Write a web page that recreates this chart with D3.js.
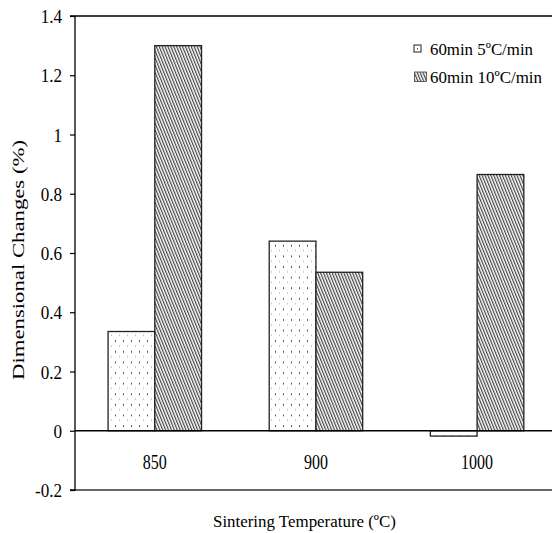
<!DOCTYPE html>
<html><head><meta charset="utf-8">
<script src="https://cdn.jsdelivr.net/npm/d3@7"></script>
<style>body{margin:0;background:#fff}svg{display:block}text{font-family:"Liberation Serif","Times New Roman",serif;fill:#000}</style>
</head><body>
<svg id="c" width="553" height="533"></svg>
<script>
const categories = ["850", "900", "1000"];
const seriesNames = ["60min 5ºC/min", "60min 10ºC/min"];
const series5 = [0.335, 0.64, -0.018];
const series10 = [1.30, 0.535, 0.865];
const yTicks = [-0.2, 0, 0.2, 0.4, 0.6, 0.8, 1, 1.2, 1.4];
const xTitle = "Sintering Temperature (ºC)";
const yTitle = "Dimensional Changes (%)";

const svg = d3.select("#c");
const L = 75, R = 552, T = 16, B = 490;
const y = d3.scaleLinear().domain([-0.2, 1.4]).range([B, T]);
const x = d3.scaleBand().domain(categories).range([L, R]).paddingInner(0.42).paddingOuter(0.19).align(0.54);
const xs = d3.scaleBand().domain([0, 1]).range([0, x.bandwidth()]);

const defs = svg.append("defs");
const dots = defs.append("pattern").attr("id", "dots").attr("patternUnits", "userSpaceOnUse")
  .attr("width", 8).attr("height", 10.6);
dots.append("rect").attr("width", 8).attr("height", 10.6).attr("fill", "#fff");
dots.append("rect").attr("x", 3).attr("y", 1).attr("width", 1).attr("height", 2).attr("fill", "#555");
dots.append("rect").attr("x", 7).attr("y", 6.3).attr("width", 1).attr("height", 1).attr("fill", "#999");
const hatch = defs.append("pattern").attr("id", "hatch").attr("patternUnits", "userSpaceOnUse")
  .attr("width", 2.7).attr("height", 10).attr("patternTransform", "rotate(-22)");
hatch.append("rect").attr("width", 2.7).attr("height", 10).attr("fill", "#fff");
hatch.append("rect").attr("x", 0).attr("y", 0).attr("width", 1.2).attr("height", 10).attr("fill", "#444");

const fills = ["url(#dots)", "url(#hatch)"];
const data = categories.map((c, i) => ({c, v: [series5[i], series10[i]]}));

// bars
const g = svg.append("g");
data.forEach(d => {
  d.v.forEach((v, k) => {
    const y0 = y(Math.max(0, v)), y1 = y(Math.min(0, v));
    g.append("rect").attr("x", x(d.c) + xs(k)).attr("y", y0)
      .attr("width", xs.bandwidth()).attr("height", y1 - y0)
      .attr("fill", fills[k]).attr("stroke", "#222").attr("stroke-width", 1.3);
  });
});

// frame lines
svg.append("line").attr("x1", L).attr("x2", R).attr("y1", T).attr("y2", T).attr("stroke", "#000").attr("stroke-width", 1.3);
svg.append("line").attr("x1", L).attr("x2", R).attr("y1", B).attr("y2", B).attr("stroke", "#333").attr("stroke-width", 1.3);
svg.append("line").attr("x1", L).attr("x2", R).attr("y1", y(0)).attr("y2", y(0)).attr("stroke", "#000").attr("stroke-width", 1.3);

// y axis
const yAxis = d3.axisLeft(y).tickValues(yTicks).tickSize(5).tickPadding(8)
  .tickFormat(d => String(+d.toFixed(1)).replace("\u2212", "-"));
const ya = svg.append("g").attr("transform", `translate(${L},0)`).call(yAxis);
ya.attr("font-family", null);
ya.select(".domain").attr("stroke", "#000").attr("stroke-width", 1.3).attr("d", `M-5,${T}H0V${B}H-5`);
ya.selectAll(".tick line").attr("stroke", "#000").attr("stroke-width", 1.2);
ya.selectAll(".tick text").attr("font-size", 19)
  .attr("transform", "scale(0.9,1)").attr("x", -13/0.9 ).attr("dy", "0.35em");

// x labels
svg.append("g").selectAll("text").data(categories).join("text")
  .attr("x", d => x(d) + x.bandwidth() / 2).attr("y", 469)
  .attr("text-anchor", "middle").attr("font-size", 20)
  .attr("textLength", d => d.length * 8).attr("lengthAdjust", "spacingAndGlyphs")
  .text(d => d);

// titles
svg.append("text").attr("x", 213).attr("y", 527).attr("font-size", 17)
  .attr("textLength", 183).attr("lengthAdjust", "spacingAndGlyphs").text(xTitle);
svg.append("text").attr("transform", "translate(24,380) rotate(-90)").attr("font-size", 17)
  .attr("textLength", 240).attr("lengthAdjust", "spacingAndGlyphs").text(yTitle);

// legend
const lg = svg.append("g");
lg.append("rect").attr("x", 414).attr("y", 45).attr("width", 7).attr("height", 7)
  .attr("fill", "#fff").attr("stroke", "#222").attr("stroke-width", 1);
lg.append("rect").attr("x", 417).attr("y", 48).attr("width", 1).attr("height", 1.5).attr("fill", "#444");
lg.append("rect").attr("x", 414.5).attr("y", 72).attr("width", 12).attr("height", 9.5)
  .attr("fill", "url(#hatch)").attr("stroke", "#444").attr("stroke-width", 0.8);
lg.append("text").attr("x", 430).attr("y", 55).attr("font-size", 17)
  .attr("textLength", 103).attr("lengthAdjust", "spacingAndGlyphs").text(seriesNames[0]);
lg.append("text").attr("x", 430).attr("y", 83).attr("font-size", 17)
  .attr("textLength", 112).attr("lengthAdjust", "spacingAndGlyphs").text(seriesNames[1]);
</script>
</body></html>
